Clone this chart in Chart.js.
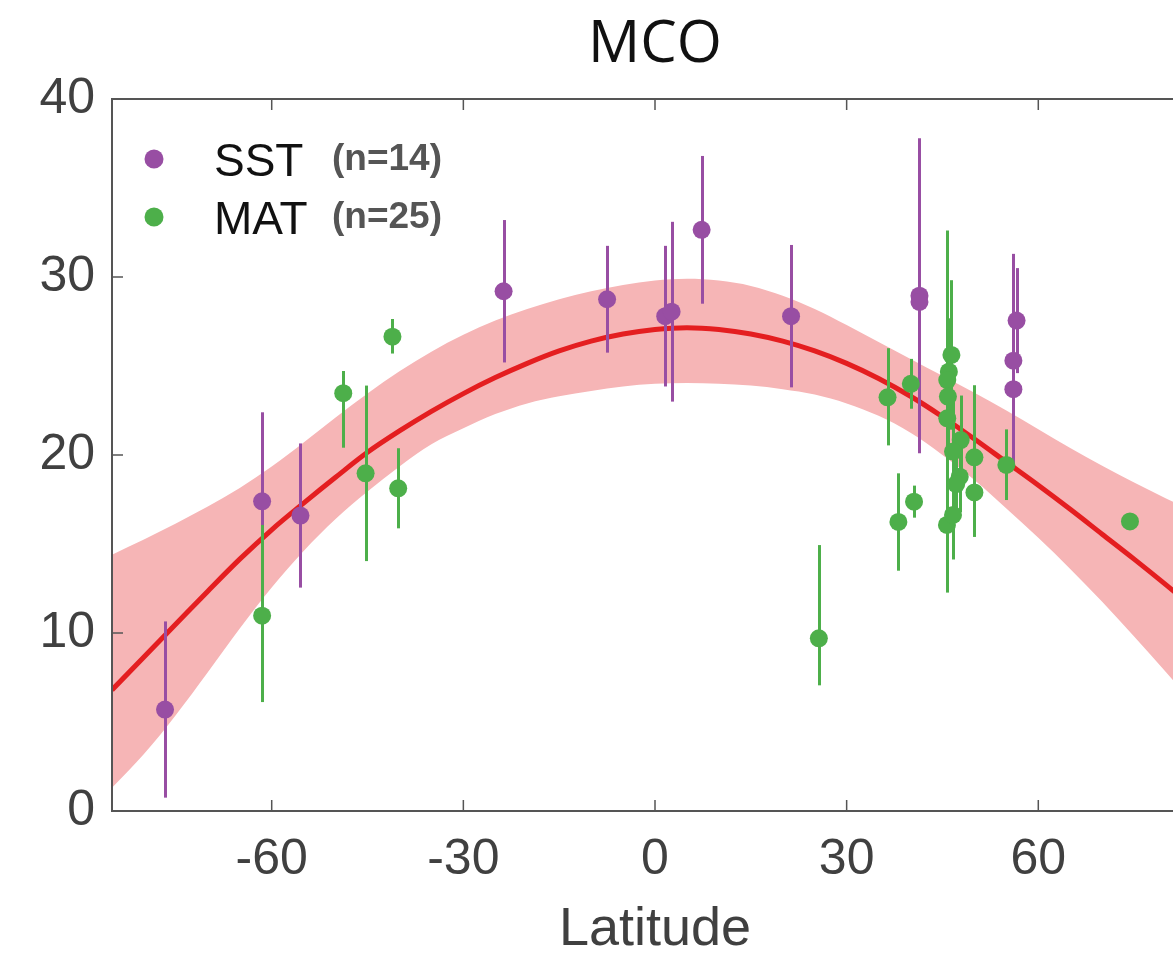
<!DOCTYPE html>
<html>
<head>
<meta charset="utf-8">
<script src="https://cdn.jsdelivr.net/npm/chart.js@4.4.1/dist/chart.umd.min.js"></script>
<style>
  html, body { margin: 0; padding: 0; background: #fff; overflow: hidden; }
  #wrap { width: 1173px; height: 954px; overflow: hidden; }
</style>
</head>
<body>
<div id="wrap"><canvas id="mcoChart" width="1240" height="954"></canvas></div>
<script>
// tick labels
const xTicks = [-60, -30, 0, 30, 60];
const yTicks = [0, 10, 20, 30, 40];

// fitted curve and its confidence band (every 5 deg)
const fitLat = [-85, -80, -75, -70, -65, -60, -55, -50, -45, -40, -35, -30, -25, -20, -15, -10, -5, 0,
                5, 10, 15, 20, 25, 30, 35, 40, 45, 50, 55, 60, 65, 70, 75, 80, 85];
const fitMid = [6.8, 8.65, 10.5, 12.35, 14.15, 15.8, 17.3, 18.75, 20.15, 21.35, 22.45, 23.45, 24.35, 25.15, 25.85, 26.4, 26.8, 27.05,
                27.15, 27.05, 26.8, 26.4, 25.85, 25.15, 24.3, 23.3, 22.15, 20.9, 19.6, 18.3, 16.95, 15.55, 14.15, 12.7, 11.2];
const fitUpper = [14.4, 15.25, 16.15, 17.1, 18.15, 19.35, 20.7, 22.1, 23.45, 24.7, 25.8, 26.75, 27.55, 28.2, 28.75, 29.2, 29.55, 29.8,
                  29.9, 29.8, 29.5, 28.95, 28.2, 27.3, 26.35, 25.4, 24.45, 23.5, 22.5, 21.45, 20.4, 19.4, 18.45, 17.55, 16.7];
const fitLower = [1.3, 3.2, 5.4, 7.8, 10.25, 12.55, 14.6, 16.4, 17.95, 19.35, 20.6, 21.5, 22.3, 22.9, 23.3, 23.6, 23.85, 24.0,
                  24.05, 24.0, 23.9, 23.7, 23.4, 22.9, 22.2, 21.25, 20.0, 18.6, 17.0, 15.35, 13.6, 11.75, 9.8, 7.8, 5.75];

// SST proxies (n=14)
const sstLat = [-76.7, -61.5, -55.5, -23.7, -7.5, 1.6, 2.6, 7.3, 21.3, 41.4, 41.4, 56.6, 56.1, 56.1];
const sstVal = [5.7, 17.4, 16.6, 29.2, 28.75, 27.8, 28.05, 32.65, 27.8, 28.95, 28.6, 27.55, 25.3, 23.7];
const sstErr = [4.95, 5.0, 4.05, 4.0, 3.0, 3.95, 5.05, 4.15, 4.0, 8.85, 4.5, 2.95, 6.0, 4.0];

// MAT proxies (n=25)
const matLat = [-61.5, -48.8, -45.3, -41.1, -40.2, 25.65, 36.4, 38.1, 40.05, 40.55, 45.7, 46.65, 46.4, 46.0, 45.75,
                45.85, 45.75, 47.85, 46.65, 50.0, 50.0, 55.0, 74.35, 47.7, 47.15];
const matVal = [10.97, 23.47, 18.97, 26.65, 18.13, 9.7, 23.24, 16.24, 24.0, 17.38, 16.07, 16.63, 25.62, 24.68, 24.21,
                23.28, 22.06, 20.84, 20.19, 19.87, 17.9, 19.44, 16.27, 18.78, 18.37];
const matErrLo = [4.85, 3.06, 4.93, 0.95, 2.25, 2.64, 2.7, 2.74, 1.4, 0.9, 3.8, 2.5, 4.2, 3.0, 8.4,
                  3.0, 5.0, 2.5, 3.0, 4.45, 2.5, 1.97, 0, 2.0, 2.0];
const matErrHi = [5.1, 1.25, 4.93, 0.99, 2.25, 5.24, 2.76, 2.73, 1.4, 0.9, 3.8, 2.5, 4.2, 3.0, 8.4,
                  3.0, 5.0, 2.5, 3.0, 4.05, 2.5, 2.0, 0, 2.0, 2.0];

const PURPLE = '#984EA3';
const GREEN = '#4DAF4A';
const RED = '#E41E20';
const BAND = '#F6B5B6';
const AXIS = '#555555';
const TICKTXT = '#404040';

const toPts = (xs, ys) => xs.map((x, i) => ({ x: x, y: ys[i] }));

// error bars drawn under each scatter dataset's markers
const errorBars = {
    id: 'errorBars',
    beforeDatasetDraw(chart, args) {
        const ds = chart.data.datasets[args.index];
        if (!ds.errLo) return;
        const { ctx, chartArea, scales: { x, y } } = chart;
        ctx.save();
        ctx.beginPath();
        ctx.rect(chartArea.left, chartArea.top, chartArea.right - chartArea.left, chartArea.bottom - chartArea.top);
        ctx.clip();
        ctx.strokeStyle = ds.backgroundColor;
        ctx.lineWidth = 3;
        ds.data.forEach((p, i) => {
            if (!ds.errLo[i] && !ds.errHi[i]) return;
            const px = Math.round(x.getPixelForValue(p.x)) + 0.5;
            ctx.beginPath();
            ctx.moveTo(px, y.getPixelForValue(p.y - ds.errLo[i]));
            ctx.lineTo(px, y.getPixelForValue(p.y + ds.errHi[i]));
            ctx.stroke();
        });
        ctx.restore();
    }
};

// matlab style box with inward ticks
const boxFrame = {
    id: 'boxFrame',
    afterDatasetsDraw(chart) {
        const { ctx, chartArea: a, scales: { x, y } } = chart;
        ctx.save();
        ctx.strokeStyle = AXIS;
        ctx.lineWidth = 2;
        ctx.strokeRect(a.left, a.top, a.right - a.left, a.bottom - a.top);
        ctx.lineWidth = 1.5;
        ctx.beginPath();
        xTicks.forEach(v => {
            const px = x.getPixelForValue(v);
            ctx.moveTo(px, a.bottom); ctx.lineTo(px, a.bottom - 11);
            ctx.moveTo(px, a.top); ctx.lineTo(px, a.top + 11);
        });
        yTicks.forEach(v => {
            const py = y.getPixelForValue(v);
            ctx.moveTo(a.left, py); ctx.lineTo(a.left + 11, py);
        });
        ctx.stroke();
        ctx.restore();
    }
};

// legend: coloured dot, name, then the sample count in grey bold
const legendBox = {
    id: 'legendBox',
    afterDraw(chart) {
        const { ctx, chartArea: a } = chart;
        const rows = [
            { color: PURPLE, name: 'SST', count: '(n=14)', cy: 159 },
            { color: GREEN, name: 'MAT', count: '(n=25)', cy: 217 }
        ];
        ctx.save();
        rows.forEach(r => {
            ctx.fillStyle = r.color;
            ctx.beginPath();
            ctx.arc(a.left + 42, r.cy, 9.5, 0, Math.PI * 2);
            ctx.fill();
            ctx.textBaseline = 'alphabetic';
            ctx.textAlign = 'left';
            ctx.fillStyle = '#111';
            ctx.font = '46px "Liberation Sans", Arial, sans-serif';
            ctx.fillText(r.name, a.left + 102, r.cy + 17);
            ctx.fillStyle = '#555';
            ctx.font = 'bold 37px "Liberation Sans", Arial, sans-serif';
            ctx.fillText(r.count, a.left + 220, r.cy + 11);
        });
        ctx.restore();
    }
};

document.addEventListener("DOMContentLoaded", function () {
    const ctx = document.getElementById('mcoChart').getContext('2d');

    new Chart(ctx, {
        type: 'scatter',
        data: {
            datasets: [
                {
                    type: 'line',
                    label: 'upper',
                    data: toPts(fitLat, fitUpper),
                    borderWidth: 0,
                    pointRadius: 0,
                    cubicInterpolationMode: 'monotone',
                    backgroundColor: BAND,
                    fill: '+1',
                    order: 5
                },
                {
                    type: 'line',
                    label: 'lower',
                    data: toPts(fitLat, fitLower),
                    borderWidth: 0,
                    pointRadius: 0,
                    cubicInterpolationMode: 'monotone',
                    fill: false,
                    order: 4
                },
                {
                    type: 'line',
                    label: 'fit',
                    data: toPts(fitLat, fitMid),
                    borderColor: RED,
                    borderWidth: 5,
                    pointRadius: 0,
                    cubicInterpolationMode: 'monotone',
                    fill: false,
                    order: 3
                },
                {
                    label: 'SST',
                    data: toPts(sstLat, sstVal),
                    errLo: sstErr,
                    errHi: sstErr,
                    backgroundColor: PURPLE,
                    pointRadius: 9,
                    pointBorderWidth: 0,
                    order: 2
                },
                {
                    label: 'MAT',
                    data: toPts(matLat, matVal),
                    errLo: matErrLo,
                    errHi: matErrHi,
                    backgroundColor: GREEN,
                    pointRadius: 9,
                    pointBorderWidth: 0,
                    order: 1
                }
            ]
        },
        options: {
            responsive: false,
            animation: false,
            layout: { padding: { left: 0, right: 42, top: 0, bottom: 0 } },
            plugins: {
                legend: { display: false },
                tooltip: { enabled: false },
                title: {
                    display: true,
                    text: 'MCO',
                    fullSize: false,
                    color: '#111',
                    font: { family: '"Open Sans", "Noto Sans", sans-serif', size: 58, weight: 'normal', lineHeight: 1.2 },
                    padding: { top: 11, bottom: 18.4 }
                }
            },
            scales: {
                x: {
                    type: 'linear',
                    min: -85,
                    max: 85,
                    grid: { display: false, drawTicks: false },
                    border: { display: false },
                    afterBuildTicks: s => { s.ticks = xTicks.map(v => ({ value: v })); },
                    afterFit: s => { s.height = 143; },
                    ticks: {
                        color: TICKTXT,
                        padding: 19,
                        maxRotation: 0,
                        font: { family: '"Liberation Sans", Arial, sans-serif', size: 50, lineHeight: 1.2 }
                    },
                    title: {
                        display: true,
                        text: 'Latitude',
                        color: TICKTXT,
                        padding: { top: 0, bottom: 0 },
                        font: { family: '"Liberation Sans", Arial, sans-serif', size: 54, lineHeight: 0.9 }
                    }
                },
                y: {
                    min: 0,
                    max: 40,
                    grid: { display: false, drawTicks: false },
                    border: { display: false },
                    afterBuildTicks: s => { s.ticks = yTicks.map(v => ({ value: v })); },
                    afterFit: s => { s.width = 112; },
                    ticks: {
                        color: TICKTXT,
                        padding: 17,
                        font: { family: '"Liberation Sans", Arial, sans-serif', size: 50 }
                    }
                }
            }
        },
        plugins: [errorBars, boxFrame, legendBox]
    });
});
</script>
</body>
</html>
